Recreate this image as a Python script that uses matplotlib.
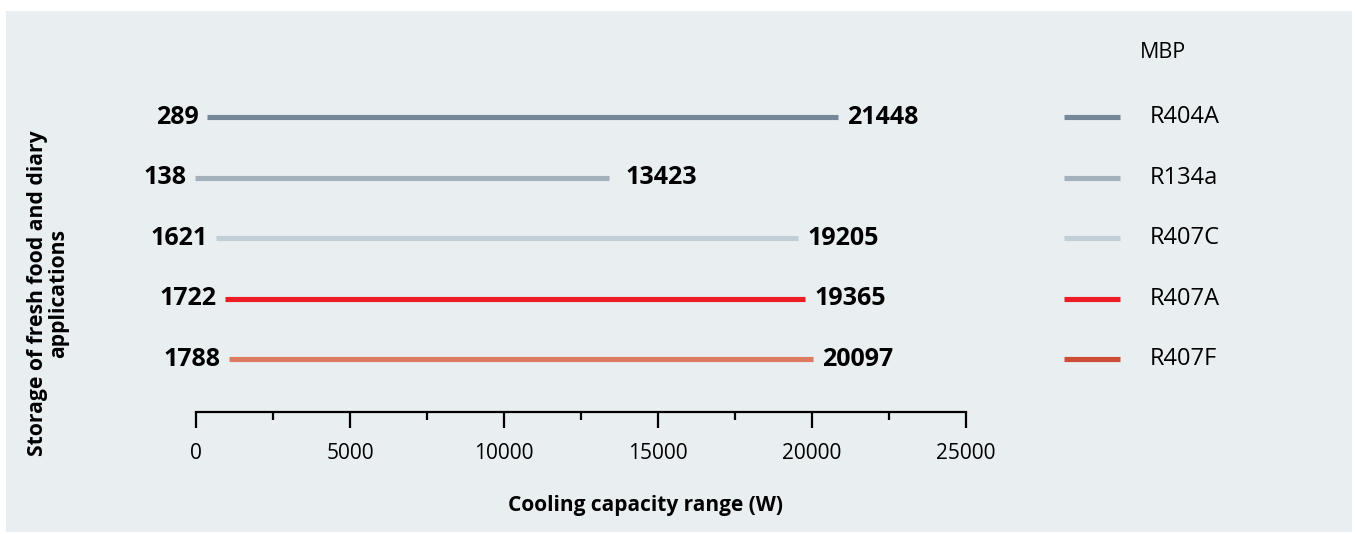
import matplotlib
matplotlib.use("Agg")
import matplotlib.pyplot as plt
from matplotlib.patches import Rectangle
from matplotlib.ticker import MultipleLocator

plt.rcParams['font.family'] = ['Open Sans', 'DejaVu Sans']

# data
refrigerants = ['R404A', 'R134a', 'R407C', 'R407A', 'R407F']
range_start = [350, -30, 650, 940, 1070]        # drawn start of each line (W)
range_end = [20840, 13410, 19545, 19775, 20030]  # drawn end of each line (W)
start_labels = ['289', '138', '1621', '1722', '1788']
end_labels = ['21448', '13423', '19205', '19365', '20097']
line_colors = ['#74889a', '#a2b1bc', '#c1ced5', '#ee1d25', '#dc7a62']
legend_colors = ['#74889a', '#a2b1bc', '#c1ced5', '#ee1d25', '#cd4c36']

W, H = 1355, 534
fig = plt.figure(figsize=(W / 100, H / 100), dpi=100, facecolor='white')
bg = '#e9eef1'
fig.patches.append(Rectangle((6 / W, 2 / H), (1352 - 6) / W, (532 - 11) / H,
                             transform=fig.transFigure, facecolor=bg,
                             edgecolor='none', zorder=-10))

# main axes: x from px 196 to 966, rows spaced ~60.5 px
ax_bottom = (H - 411.7) / H
ax_top = (H - 68.6) / H
ax = fig.add_axes([196 / W, ax_bottom, 770 / W, ax_top - ax_bottom])
ax.patch.set_visible(False)

ypos = [4 - i for i in range(len(refrigerants))]
for y, x0, x1, c, sl, el in zip(ypos, range_start, range_end, line_colors,
                                start_labels, end_labels):
    ax.plot([x0, x1], [y, y], color=c, lw=3.7, solid_capstyle='butt', clip_on=False)
    ax.annotate(sl, (x0, y), xytext=(-6, 0), textcoords='offset points',
                ha='right', va='center', fontsize=18, fontweight='bold',
                annotation_clip=False)
    # the 13423 label sits a bit further out in the original
    gap = 12 if el == '13423' else 6.5
    ax.annotate(el, (x1, y), xytext=(gap, 0), textcoords='offset points',
                ha='left', va='center', fontsize=18, fontweight='bold',
                annotation_clip=False)

ax.set_xlim(0, 25000)
ax.set_ylim(-0.871, 4.8)
ax.set_yticks([])
for s in ['left', 'right', 'top']:
    ax.spines[s].set_visible(False)
ax.spines['bottom'].set_linewidth(1.6)
ax.xaxis.set_major_locator(MultipleLocator(5000))
ax.xaxis.set_minor_locator(MultipleLocator(2500))
ax.tick_params(axis='x', which='major', length=11.5, width=1.6, pad=11,
               labelsize=15, colors='black')
ax.tick_params(axis='x', which='minor', length=5.8, width=1.6)

fig.text(645 / W, (H - 506) / H, 'Cooling capacity range (W)', ha='center',
         va='center', fontsize=15, fontweight='bold')
fig.text(48 / W, (H - 293) / H, 'Storage of fresh food and diary\napplications',
         ha='center', va='center', rotation=90, fontsize=15.2,
         fontweight='bold', linespacing=1.0)

# legend drawn at the same row heights
lax = fig.add_axes([1040 / W, ax_bottom, 310 / W, ax_top - ax_bottom])
lax.set_xlim(0, 310)
lax.set_ylim(ax.get_ylim())
lax.axis('off')
lax.text(100, 4 + (117 - 53) / 60.5, 'MBP', ha='left', va='center', fontsize=15.5)
for y, c, name in zip(ypos, legend_colors, refrigerants):
    lax.plot([24, 80], [y, y], color=c, lw=3.7, solid_capstyle='butt')
    lax.text(110, y, name, ha='left', va='center', fontsize=17)

fig.savefig('out.png', dpi=100, facecolor='white')
